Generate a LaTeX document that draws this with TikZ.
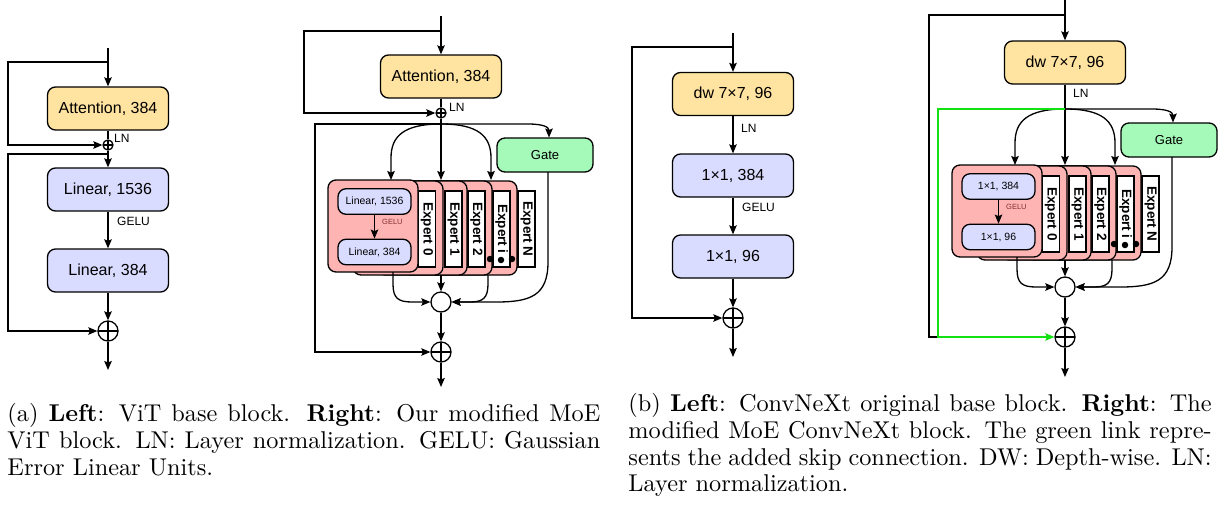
\documentclass[tikz,border=0pt]{standalone}
\usepackage{fontspec}
\setsansfont{Liberation Sans}
\usetikzlibrary{arrows.meta,calc}

\definecolor{attnfill}{RGB}{255,227,160}
\definecolor{linfill}{RGB}{218,220,255}
\definecolor{gatefill}{RGB}{165,250,185}
\definecolor{cardfill}{RGB}{255,180,180}
\definecolor{skipgreen}{RGB}{20,225,20}
\definecolor{gelured}{RGB}{130,45,45}

\tikzset{
  wire/.style={line width=1.3pt, draw=black},
  arr/.style={wire, -{Stealth[length=9pt,width=7.5pt,inset=1.5pt]}},
  opbox/.style={draw, line width=1.3pt, rounded corners=8pt, inner sep=0pt,
    font=\sffamily\fontsize{16}{18}\selectfont},
  attnbox/.style={opbox, fill=attnfill, minimum width=121pt, minimum height=43pt},
  linbox/.style={opbox, fill=linfill, minimum width=121pt, minimum height=43pt},
  gatebox/.style={opbox, fill=gatefill, minimum width=96pt, minimum height=34pt,
    font=\sffamily\fontsize{13}{15}\selectfont},
  card/.style={draw, line width=1.3pt, rounded corners=8pt, fill=cardfill,
    minimum width=90pt, minimum height=94pt, inner sep=0pt},
  tag/.style={draw, line width=1.3pt, fill=white, rotate=-90, minimum width=76pt,
    minimum height=17pt, inner sep=0pt, font=\sffamily\bfseries\fontsize{13.5}{15}\selectfont},
  minibox/.style={opbox, fill=linfill, minimum width=73pt, minimum height=25.5pt,
    font=\sffamily\fontsize{10.5}{12}\selectfont},
  lbl/.style={font=\sffamily\fontsize{12}{14}\selectfont, inner sep=0pt, anchor=west},
  minilbl/.style={font=\sffamily\fontsize{7.5}{8}\selectfont, text=gelured, inner sep=0pt, anchor=west},
  oplus/.style={circle, draw, line width=1.3pt, fill=white, inner sep=0pt, minimum size=#1,
    path picture={\draw[line width=1.3pt]
      (path picture bounding box.north) -- (path picture bounding box.south)
      (path picture bounding box.west) -- (path picture bounding box.east);}},
  mix/.style={circle, draw, line width=1.3pt, fill=white, inner sep=0pt, minimum size=20pt},
  dotmark/.style={circle, fill=black, inner sep=0pt, minimum size=6.5pt},
  captiontext/.style={anchor=north west, inner sep=0pt, scale=2.43, transform shape,
    align=justify, font=\fontsize{10}{11}\selectfont},
}

% Mixture-of-experts part: router branch, gate, stacked experts, combiner and sum.
% #1 name prefix, #2 upper layer of the front expert, #3 lower layer.
\newcommand{\moeblock}[3]{%
  \coordinate (#1br) at (441,124);
  \node[gatebox] (#1gate) at (545,155) {Gate};
  % experts, back to front
  \node[tag] (#1tN) at (526.5,229) {Expert N};
  \node[card] (#1ci) at (472,228) {};
  \node[tag] (#1ti) at (501.5,229) {Expert i};
  \node[card] (#1c2) at (447,228) {};
  \node[tag] (#1t2) at (476.5,229) {Expert 2};
  \node[card] (#1c1) at (422,228) {};
  \node[tag] (#1t1) at (453.5,229) {Expert 1};
  \node[card] (#1c0) at (398,228) {};
  \node[tag] (#1t0) at (427,229) {Expert 0};
  \node[card, minimum height=92pt] (#1cf) at (373,226) {};
  \node[minibox] (#1u) at (374.5,201.5) {#2};
  \node[minibox] (#1v) at (374.5,252) {#3};
  \draw[arr] (#1u) -- (#1v);
  \node[minilbl] (#1g) at (382,222) {GELU};
  \node[dotmark] (#1d1) at (490,259) {};
  \node[dotmark] (#1d2) at (501,260) {};
  \node[dotmark] (#1d3) at (512,259) {};
  % routing into the experts and the gate
  \coordinate (#1inL) at (391,180);
  \coordinate (#1inM) at (441,180);
  \coordinate (#1inR) at (491,180);
  \coordinate (#1gin) at (549,137.5);
  \draw[arr] (#1br) .. controls (404,124) and (391,136) .. (391,158) -- (#1inL);
  \draw[arr] (#1br) -- (#1inM);
  \draw[arr] (#1br) .. controls (478,124) and (491,136) .. (491,158) -- (#1inR);
  \draw[arr] (#1br) -- (528,124) .. controls (543,124) and (549,127) .. (#1gin);
  % combining the expert outputs
  \node[mix] (#1mix) at (441,302) {};
  \node[oplus=20pt] (#1sum) at (441,352) {};
  \coordinate (#1oL) at (393,272);
  \coordinate (#1oM) at (441,275);
  \coordinate (#1oR) at (488,275);
  \coordinate (#1gout) at (548,172);
  \draw[arr] (#1oL) -- (393,284) .. controls (393,298) and (398,302) .. (412,302) -- (#1mix.west);
  \draw[arr] (#1oM) -- (#1mix.north);
  \draw[arr] (#1oR) -- (488,284) .. controls (488,298) and (483,302) .. (470,302) -- (#1mix.east);
  \draw[arr] (#1gout) -- (548,262) .. controls (548,296) and (530,302) .. (496,302) -- (#1mix.east);
  \draw[arr] (#1mix) -- (#1sum);
}

\begin{document}
\begin{tikzpicture}[x=1pt,y=-1pt]
\useasboundingbox (0,0) rectangle (1218,504);
\fill[white] (0,0) rectangle (1218,504);

% ---------- ViT base block ----------
\coordinate (in1) at (108,48);
\coordinate (b1) at (108,62);
\coordinate (b2) at (108,154);
\coordinate (k1) at (8,145);
\coordinate (k2) at (8,331);
\coordinate (out1) at (108,370);
\node[attnbox] (a1) at (108,108.5) {Attention, 384};
\node[oplus=10pt] (p1) at (108,145) {};
\node[lbl] (ln1) at (114,138) {LN};
\node[linbox] (l1) at (108,189.5) {Linear, 1536};
\node[lbl] (ge1) at (117,221) {GELU};
\node[linbox] (l2) at (108,270.5) {Linear, 384};
\node[oplus=20pt] (s1) at (108,331) {};
\draw[arr] (in1) -- (a1);
\draw[wire] (a1) -- (p1);
\draw[arr] (b1) -| (k1) -- (p1.west);
\draw[arr] (p1) -- (l1);
\draw[arr] (l1) -- (l2);
\draw[arr] (l2) -- (s1);
\draw[arr] (b2) -| (k2) -- (s1.west);
\draw[arr] (s1) -- (out1);

% ---------- MoE ViT block ----------
\coordinate (in2) at (441,16);
\coordinate (b3) at (441,31);
\coordinate (k3) at (304,113);
\coordinate (k4) at (315,352);
\coordinate (out2) at (441,387);
\node[attnbox] (a2) at (441,76.5) {Attention, 384};
\node[oplus=10pt] (p2) at (441,113) {};
\node[lbl] (ln2) at (449,107) {LN};
\moeblock{m}{Linear, 1536}{Linear, 384}
\draw[arr] (in2) -- (a2);
\draw[wire] (a2) -- (p2);
\draw[arr] (b3) -| (k3) -- (p2.west);
\draw[wire] (p2) -- (mbr);
\draw[arr] (mbr) -| (k4) -- (msum.west);
\draw[arr] (msum) -- (out2);

% ---------- ConvNeXt base block ----------
\coordinate (in3) at (733,33);
\coordinate (b5) at (733,47);
\coordinate (k5) at (632,318);
\coordinate (out3) at (733,357);
\node[attnbox] (d1) at (733,94) {dw 7×7, 96};
\node[lbl] (ln3) at (741,128) {LN};
\node[linbox] (c1) at (733,175.5) {1×1, 384};
\node[lbl] (ge3) at (742,207) {GELU};
\node[linbox] (c2) at (733,256.5) {1×1, 96};
\node[oplus=20pt] (s3) at (733,318) {};
\draw[arr] (in3) -- (d1);
\draw[arr] (d1) -- (c1);
\draw[arr] (c1) -- (c2);
\draw[arr] (c2) -- (s3);
\draw[arr] (b5) -| (k5) -- (s3.west);
\draw[arr] (s3) -- (out3);

% ---------- MoE ConvNeXt block ----------
\coordinate (in4) at (1065,0);
\coordinate (b6) at (1065,15);
\coordinate (k6) at (929,337);
\coordinate (k7) at (938,337);
\coordinate (out4) at (1065,377);
\node[attnbox] (d2) at (1065,62.5) {dw 7×7, 96};
\node[lbl] (ln4) at (1073,93) {LN};
\begin{scope}[shift={(624,-15)}]
  \moeblock{n}{1×1, 384}{1×1, 96}
\end{scope}
\draw[arr] (in4) -- (d2);
\draw[wire] (d2) -- (nbr);
\draw[wire] (b6) -| (k6) -- (k7);
\draw[arr, draw=skipgreen, color=skipgreen] (nbr) -| (k7) -- (nsum.west);
\draw[arr] (nsum) -- (out4);

% ---------- captions ----------
\node[captiontext, text width=244pt] (capa) at (7,402.6) {\noindent\strut(a) \textbf{Left}: ViT base block. \textbf{Right}: Our modified MoE ViT block. LN: Layer normalization. GELU: Gaussian Error Linear Units.};
\node[captiontext, text width=240pt] (capb) at (628,392.5) {\noindent\strut(b) \textbf{Left}: ConvNeXt original base block. \textbf{Right}: The modified MoE ConvNeXt block. The green link represents the added skip connection. DW: Depth-wise. LN: Layer normalization.};
\end{tikzpicture}
\end{document}
